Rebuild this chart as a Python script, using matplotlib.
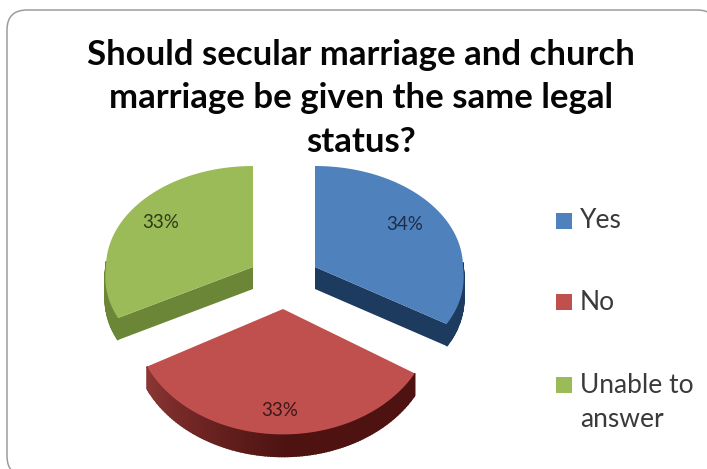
import numpy as np
import matplotlib
matplotlib.use("Agg")
import matplotlib.pyplot as plt
from matplotlib.patches import FancyBboxPatch, Rectangle

# Survey results
categories = ["Yes", "No", "Unable to\nanswer"]
shares = [34, 33, 33]
title_text = "Should secular marriage and church\nmarriage be given the same legal\nstatus?"

# Slice colours: top face, cut face, rim at the left and rim at the centre
top_colors = ["#4F81BD", "#C0504D", "#9BBB59"]
cut_colors = ["#1D3A5F", "#7A2C2A", "#6B8636"]
rim_light = ["#1D3A5F", "#8A3533", "#6B8636"]
rim_dark = ["#1D3A5F", "#4E1311", "#6B8636"]
label_colors = ["#1E2D44", "#3E1716", "#2C3A18"]

# Exploded slice geometry in canvas pixels: apex x, apex y, x radius, y radius
slice_shape = [(315, 267, 148, 101), (283, 309, 148, 114), (253, 267, 147, 101)]
label_spots = [(405, 225), (280, 411), (161, 223)]
legend_swatch_tops = [213, 294, 377]
legend_baselines = [228, 310, 427]
DEPTH = 22
NEAR_GROWTH = 0.10  # slices swell slightly towards the viewer

fig = plt.figure(figsize=(7.07, 4.69), dpi=100)
ax = fig.add_axes([0, 0, 1, 1])
ax.set_xlim(0, 707)
ax.set_ylim(469, 0)
ax.axis("off")

# Rounded slide frame, its right and bottom edges run off the canvas
ax.add_patch(FancyBboxPatch((7, 10), 710, 466, boxstyle="round,pad=0,rounding_size=20",
                            fc="white", ec="#9C9C9C", lw=1.1, zorder=0))

ax.text(361, 98.5, title_text, ha="center", va="center", fontsize=25, fontweight="bold",
        family="Lato", color="#050505", linespacing=1.445, zorder=5)


def arc_points(cx, cy, rx, ry, start, stop, n=120):
    """Points on an elliptical arc, angles in degrees clockwise from the top."""
    t = np.radians(np.linspace(start, stop, n))
    grow = 1 + NEAR_GROWTH * np.maximum(0, -np.cos(t))
    return cx + rx * grow * np.sin(t), cy - ry * grow * np.cos(t)


def lerp_color(c0, c1, f):
    a, b = np.array(matplotlib.colors.to_rgb(c0)), np.array(matplotlib.colors.to_rgb(c1))
    return a + (b - a) * f


edges = np.concatenate([[0], np.cumsum(shares)]) / np.sum(shares) * 360
for i, share in enumerate(shares):
    cx, cy, rx, ry = slice_shape[i]
    start, stop = edges[i], edges[i + 1]
    px, py = arc_points(cx, cy, rx, ry, start, stop)

    # Outer rim: only the part facing the viewer (lower half of the ellipse)
    for k in range(len(px) - 1):
        mid = np.radians(start + (stop - start) * (k + 0.5) / (len(px) - 1))
        if np.cos(mid) < 0.05:
            f = np.clip((np.pi * 1.33 - mid) / (np.pi * 0.33), 0, 1)
            ax.fill([px[k], px[k + 1], px[k + 1], px[k]],
                    [py[k], py[k + 1], py[k + 1] + DEPTH, py[k] + DEPTH],
                    color=lerp_color(rim_light[i], rim_dark[i], f), lw=1.2, zorder=2)

    # Cut face visible on the slices either side of the gap
    if i == 0:
        ax.fill([cx, px[-1], px[-1], cx], [cy, py[-1], py[-1] + DEPTH, cy + DEPTH],
                color=cut_colors[i], lw=0, zorder=2)
    elif i == 2:
        ax.fill([cx, px[0], px[0], cx], [cy, py[0], py[0] + DEPTH, cy + DEPTH],
                color=cut_colors[i], lw=0, zorder=2)

    ax.fill(np.r_[cx, px], np.r_[cy, py], color=top_colors[i], lw=0, zorder=3)

    lx, ly = label_spots[i]
    ax.text(lx, ly, f"{share}%", ha="center", va="center", fontsize=13.5, family="Lato",
            color=label_colors[i], zorder=4)

    # Legend entry
    ax.add_patch(Rectangle((556, legend_swatch_tops[i]), 16, 16, fc=top_colors[i], ec="none", zorder=4))
    ax.text(580, legend_baselines[i], categories[i], ha="left", va="baseline", fontsize=19,
            family="Lato", color="#3A3A3A", linespacing=1.46, zorder=4)

fig.savefig("out.png", dpi=100)
